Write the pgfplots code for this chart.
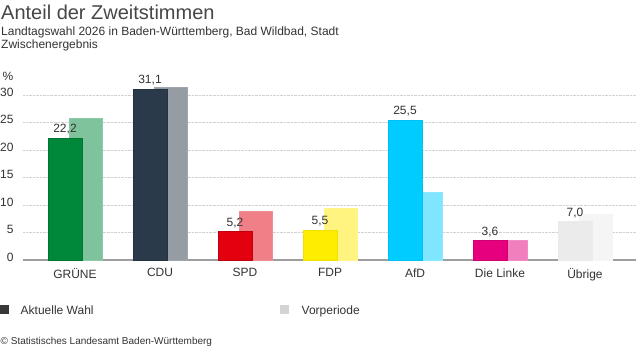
\documentclass[border=0pt]{standalone}
\usepackage{pgfplots}
\pgfplotsset{compat=1.18}
\usepackage{fontspec}
\setmainfont{Liberation Sans}
\definecolor{txt}{HTML}{333333}
\definecolor{gruen}{HTML}{00883A}\definecolor{gruenP}{HTML}{7FC39C}
\definecolor{cdu}{HTML}{2B3A4A}\definecolor{cduP}{HTML}{969CA4}
\definecolor{spd}{HTML}{E3000F}\definecolor{spdP}{HTML}{F17F87}
\definecolor{fdp}{HTML}{FFED00}\definecolor{fdpP}{HTML}{FFF47F}
\definecolor{afd}{HTML}{00CCFF}\definecolor{afdP}{HTML}{80E5FF}
\definecolor{linke}{HTML}{E6007E}\definecolor{linkeP}{HTML}{F17FBE}
\definecolor{ueb}{HTML}{EBEBEB}\definecolor{uebP}{HTML}{F5F5F5}
\begin{document}
\begin{tikzpicture}
\useasboundingbox (0,0) rectangle (637bp,352bp);
\fill[white] (0,0) rectangle (637bp,352bp);
\begin{axis}[
  at={(23bp,92bp)}, anchor=south west,
  scale only axis, width=613bp, height=176bp,
  xmin=-0.6118, xmax=6.6, ymin=0, ymax=32,
  axis line style={draw=none},
  tick style={draw=none},
  ytick={0,5,10,15,20,25,30},
  ymajorgrids,
  major grid style={densely dotted, color=black!18, line width=0.8bp},
  extra y ticks={0}, extra y tick labels={},
  extra y tick style={grid=major, major grid style={solid, color=black!38, line width=1.3bp}},
  xtick={0,1,2,3,4,5,6},
  xticklabels={GRÜNE,CDU,SPD,FDP,AfD,Die Linke,Übrige},
  tick label style={font=\fontsize{12bp}{14bp}\selectfont, color=txt},
  yticklabel style={anchor=east, xshift=-6bp, yshift=3bp},
  xticklabel style={yshift=-5bp},
  /pgf/number format/assume math mode=true,
  every node near coord/.append style={font=\fontsize{12bp}{14bp}\selectfont, color=txt, xshift=-10bp},
  nodes near coords style={/pgf/number format/.cd, use comma, fixed, fixed zerofill, precision=1},
  clip=false,
]
% Vorperiode
\addplot[ybar, bar width=33bp, bar shift=10.5bp, fill=gruenP, draw=gruenP!90!white] coordinates {(0,25.8)};
\addplot[ybar, bar width=33bp, bar shift=10.5bp, fill=cduP, draw=cduP!90!white] coordinates {(1,31.4)};
\addplot[ybar, bar width=33bp, bar shift=10.5bp, fill=spdP, draw=spdP!90!white] coordinates {(2,8.8)};
\addplot[ybar, bar width=33bp, bar shift=10.5bp, fill=fdpP, draw=fdpP!90!white] coordinates {(3,9.4)};
\addplot[ybar, bar width=33bp, bar shift=10.5bp, fill=afdP, draw=afdP!90!white] coordinates {(4,12.3)};
\addplot[ybar, bar width=33bp, bar shift=10.5bp, fill=linkeP, draw=linkeP!90!white] coordinates {(5,3.6)};
\addplot[ybar, bar width=33bp, bar shift=10.5bp, fill=uebP, draw=uebP] coordinates {(6,8.3)};
% Aktuelle Wahl
\addplot[ybar, bar width=34bp, bar shift=-10bp, fill=gruen, draw=gruen!85!black, nodes near coords] coordinates {(0,22.2)};
\addplot[ybar, bar width=34bp, bar shift=-10bp, fill=cdu, draw=cdu!85!black, nodes near coords] coordinates {(1,31.1)};
\addplot[ybar, bar width=34bp, bar shift=-10bp, fill=spd, draw=spd!85!black, nodes near coords] coordinates {(2,5.2)};
\addplot[ybar, bar width=34bp, bar shift=-10bp, fill=fdp, draw=fdp!95!black, nodes near coords] coordinates {(3,5.5)};
\addplot[ybar, bar width=34bp, bar shift=-10bp, fill=afd, draw=afd!95!black, nodes near coords] coordinates {(4,25.5)};
\addplot[ybar, bar width=34bp, bar shift=-10bp, fill=linke, draw=linke!90!black, nodes near coords] coordinates {(5,3.6)};
\addplot[ybar, bar width=34bp, bar shift=-10bp, fill=ueb, draw=ueb, nodes near coords] coordinates {(6,7.0)};
\end{axis}
\node[anchor=center, inner sep=0, font=\fontsize{12bp}{14bp}\selectfont, color=txt] at (8bp,276bp) {\%};
\node[anchor=base west, inner sep=0, font=\fontsize{20bp}{22bp}\selectfont, color=black!72] at (1bp,332.5bp) {Anteil der Zweitstimmen};
\node[anchor=base west, inner sep=0, font=\fontsize{12bp}{14bp}\selectfont, color=txt] at (1bp,316.5bp) {Landtagswahl 2026 in Baden-Württemberg, Bad Wildbad, Stadt};
\node[anchor=base west, inner sep=0, font=\fontsize{12bp}{14bp}\selectfont, color=txt] at (1bp,303.5bp) {Zwischenergebnis};
\fill[black!78] (0,37.5bp) rectangle (9bp,46.5bp);
\node[anchor=base west, inner sep=0, font=\fontsize{12bp}{14bp}\selectfont, color=txt] at (20.5bp,37.8bp) {Aktuelle Wahl};
\fill[black!17] (280bp,37.5bp) rectangle (289bp,46.5bp);
\node[anchor=base west, inner sep=0, font=\fontsize{12bp}{14bp}\selectfont, color=txt] at (301.5bp,37.8bp) {Vorperiode};
\node[anchor=base west, inner sep=0, font=\fontsize{10bp}{12bp}\selectfont, color=txt] at (0.5bp,7.5bp) {© Statistisches Landesamt Baden-Württemberg};
\end{tikzpicture}
\end{document}
